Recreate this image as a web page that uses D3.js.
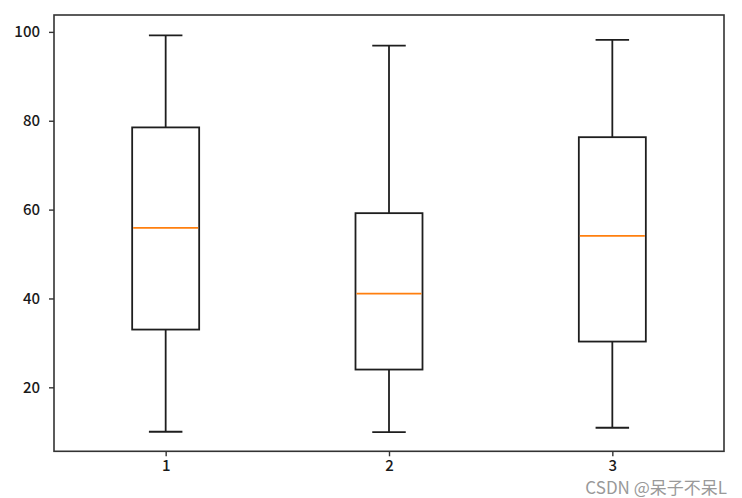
<!DOCTYPE html>
<html>
<head>
<meta charset="utf-8">
<script src="https://cdn.jsdelivr.net/npm/d3@7"></script>
<style>
  html, body { margin: 0; padding: 0; background: #fff; }
  svg { display: block; }
</style>
</head>
<body>
<svg id="chart" width="742" height="498"></svg>
<script>
// Data
const categories = [1, 2, 3];
const whiskerLow  = [10.0, 9.9, 10.9];
const q1Values    = [33.0, 24.0, 30.3];
const medians     = [55.9, 41.1, 54.1];
const q3Values    = [78.5, 59.2, 76.3];
const whiskerHigh = [99.2, 96.9, 98.2];
const yTicks = [20, 40, 60, 80, 100];
const watermark = "CSDN @呆子不呆L";

(function () {
const boxes = categories.map((c, i) => ({
  cat: c, lo: whiskerLow[i], q1: q1Values[i], med: medians[i], q3: q3Values[i], hi: whiskerHigh[i]
}));

const svg = d3.select("#chart");
const pLeft = 54, pRight = 724, pTop = 15, pBottom = 451.3;

const x = d3.scaleLinear().domain([0.5, 3.5]).range([pLeft, pRight]);
const y = d3.scaleLinear().domain([5.6, 103.8]).range([pBottom, pTop]);

const boxW = 0.3, capW = 0.15;
const lineColor = "#1e1e1e";
const fontFam = "'Noto Sans CJK SC', 'DejaVu Sans', sans-serif";

const g = svg.append("g");

// whiskers
g.append("g").selectAll("line").data(boxes).join("line")
  .attr("x1", d => x(d.cat)).attr("x2", d => x(d.cat))
  .attr("y1", d => y(d.lo)).attr("y2", d => y(d.q1))
  .attr("stroke", lineColor).attr("stroke-width", 1.8);
g.append("g").selectAll("line").data(boxes).join("line")
  .attr("x1", d => x(d.cat)).attr("x2", d => x(d.cat))
  .attr("y1", d => y(d.q3)).attr("y2", d => y(d.hi))
  .attr("stroke", lineColor).attr("stroke-width", 1.8);
// caps
["lo", "hi"].forEach(k => {
  g.append("g").selectAll("line").data(boxes).join("line")
    .attr("x1", d => x(d.cat - capW / 2)).attr("x2", d => x(d.cat + capW / 2))
    .attr("y1", d => y(d[k])).attr("y2", d => y(d[k]))
    .attr("stroke", lineColor).attr("stroke-width", 1.8);
});
// boxes
g.append("g").selectAll("rect").data(boxes).join("rect")
  .attr("x", d => x(d.cat - boxW / 2))
  .attr("width", d => x(d.cat + boxW / 2) - x(d.cat - boxW / 2))
  .attr("y", d => y(d.q3))
  .attr("height", d => y(d.q1) - y(d.q3))
  .attr("fill", "none").attr("stroke", lineColor).attr("stroke-width", 1.8);
// medians
g.append("g").selectAll("line").data(boxes).join("line")
  .attr("x1", d => x(d.cat - boxW / 2) + 1).attr("x2", d => x(d.cat + boxW / 2) - 1)
  .attr("y1", d => y(d.med)).attr("y2", d => y(d.med))
  .attr("stroke", "#ff7f0e").attr("stroke-width", 1.8);

// axes
const xAxis = d3.axisBottom(x).tickValues(categories).tickSize(5).tickPadding(4).tickFormat(d3.format("d"));
const yAxis = d3.axisLeft(y).tickValues(yTicks).tickSize(5).tickPadding(9);

const gx = svg.append("g").attr("transform", `translate(0,${pBottom})`).call(xAxis);
const gy = svg.append("g").attr("transform", `translate(${pLeft},0)`).call(yAxis);
[gx, gy].forEach(a => {
  a.select(".domain").remove();
  a.selectAll(".tick line").attr("stroke", "#333").attr("stroke-width", 1.4);
  a.selectAll(".tick text").attr("fill", "#1a1a1a").style("font-family", fontFam).style("font-size", "15px").style("font-weight", "500");
});

// frame
svg.append("rect")
  .attr("x", pLeft).attr("y", pTop)
  .attr("width", pRight - pLeft).attr("height", pBottom - pTop)
  .attr("fill", "none").attr("stroke", "#333").attr("stroke-width", 1.6);

// watermark
svg.append("text")
  .attr("x", 727).attr("y", 494)
  .attr("text-anchor", "end")
  .attr("fill", "#999")
  .style("font-family", fontFam)
  .style("font-size", "17px")
  .text(watermark);
})();
</script>
</body>
</html>
